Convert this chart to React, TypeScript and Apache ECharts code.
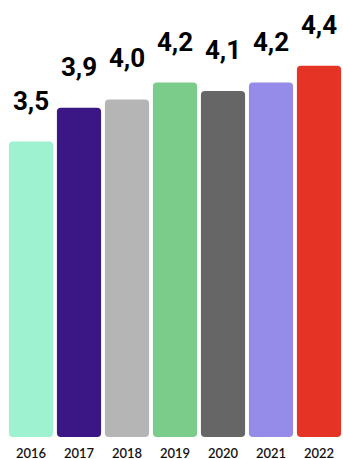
import React, { useEffect, useRef } from "react";
import * as echarts from "echarts";

const years = ["2016", "2017", "2018", "2019", "2020", "2021", "2022"];
const values = [3.5, 3.9, 4.0, 4.2, 4.1, 4.2, 4.4];
const colors = ["#9ff2d0", "#3b1685", "#b5b5b5", "#7bcb8b", "#666666", "#948ce8", "#e53426"];

export default function App() {
  const ref = useRef<HTMLDivElement>(null);

  useEffect(() => {
    if (!ref.current) return;
    const chart = echarts.init(ref.current, undefined, { renderer: "svg" });
    chart.setOption({
      animation: false,
      grid: { left: 7, right: 0, top: 15, bottom: 22 },
      xAxis: {
        type: "category",
        data: years,
        axisLine: { show: false },
        axisTick: { show: false },
        axisLabel: {
          color: "#111111",
          fontFamily: "Lato",
          fontSize: 13,
          fontWeight: 600,
          margin: 9,
        },
      },
      yAxis: {
        type: "value",
        min: 0,
        max: 5,
        show: false,
        splitLine: { show: false },
      },
      series: [
        {
          type: "bar",
          barCategoryGap: "8%",
          data: values.map((v, i) => ({ value: v, itemStyle: { color: colors[i] } })),
          itemStyle: { borderRadius: 4 },
          label: {
            show: true,
            position: "top",
            distance: 28,
            color: "#000000",
            fontFamily: "Roboto",
            fontWeight: "bold",
            fontSize: 26,
            formatter: (p: any) => p.value.toFixed(1).replace(".", ","),
          },
        },
      ],
    });
    return () => chart.dispose();
  }, []);

  return (
    <div
      ref={ref}
      style={{ position: "absolute", left: 0, top: 0, width: 343, height: 459 }}
    />
  );
}
